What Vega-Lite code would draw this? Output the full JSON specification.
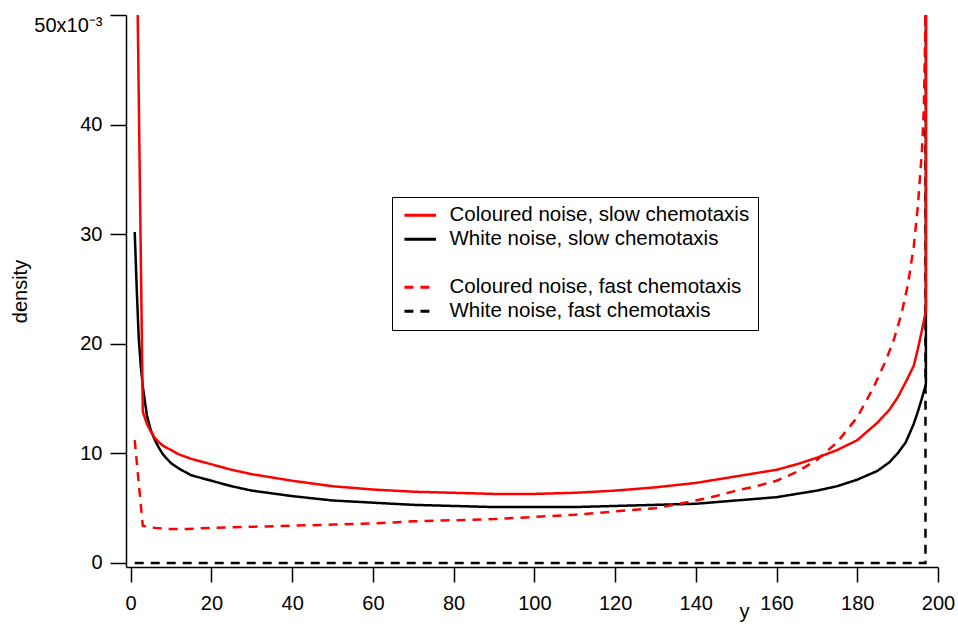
{
  "$schema": "https://vega.github.io/schema/vega-lite/v6.json",
  "width": 812,
  "height": 552,
  "autosize": "none",
  "padding": {"left": 126, "top": 15, "right": 20, "bottom": 59},
  "background": "white",
  "config": {"view": {"stroke": null}, "font": "Liberation Sans"},
  "data": {"values": [
    {"s":"White noise, fast chemotaxis","x":1,"d":0},{"s":"White noise, fast chemotaxis","x":10,"d":0},{"s":"White noise, fast chemotaxis","x":20,"d":0},{"s":"White noise, fast chemotaxis","x":30,"d":0},{"s":"White noise, fast chemotaxis","x":40,"d":0},{"s":"White noise, fast chemotaxis","x":50,"d":0},{"s":"White noise, fast chemotaxis","x":60,"d":0},{"s":"White noise, fast chemotaxis","x":70,"d":0},{"s":"White noise, fast chemotaxis","x":80,"d":0},{"s":"White noise, fast chemotaxis","x":90,"d":0},{"s":"White noise, fast chemotaxis","x":100,"d":0},{"s":"White noise, fast chemotaxis","x":110,"d":0},{"s":"White noise, fast chemotaxis","x":120,"d":0},{"s":"White noise, fast chemotaxis","x":130,"d":0},{"s":"White noise, fast chemotaxis","x":140,"d":0},{"s":"White noise, fast chemotaxis","x":150,"d":0},{"s":"White noise, fast chemotaxis","x":160,"d":0},{"s":"White noise, fast chemotaxis","x":170,"d":0},{"s":"White noise, fast chemotaxis","x":180,"d":0},{"s":"White noise, fast chemotaxis","x":190,"d":0},{"s":"White noise, fast chemotaxis","x":196.9,"d":0},{"s":"White noise, fast chemotaxis","x":197,"d":1.0},

    {"s":"White noise, slow chemotaxis","x":1,"d":0.0302},{"s":"White noise, slow chemotaxis","x":1.5,"d":0.0250},{"s":"White noise, slow chemotaxis","x":2,"d":0.0205},{"s":"White noise, slow chemotaxis","x":2.5,"d":0.0180},{"s":"White noise, slow chemotaxis","x":3,"d":0.0161},{"s":"White noise, slow chemotaxis","x":4,"d":0.0135},{"s":"White noise, slow chemotaxis","x":5,"d":0.0121},{"s":"White noise, slow chemotaxis","x":6,"d":0.0112},{"s":"White noise, slow chemotaxis","x":7,"d":0.0105},{"s":"White noise, slow chemotaxis","x":8,"d":0.0099},{"s":"White noise, slow chemotaxis","x":10,"d":0.0091},{"s":"White noise, slow chemotaxis","x":12,"d":0.0086},{"s":"White noise, slow chemotaxis","x":15,"d":0.0080},{"s":"White noise, slow chemotaxis","x":20,"d":0.0075},{"s":"White noise, slow chemotaxis","x":25,"d":0.0070},{"s":"White noise, slow chemotaxis","x":30,"d":0.0066},{"s":"White noise, slow chemotaxis","x":40,"d":0.0061},{"s":"White noise, slow chemotaxis","x":50,"d":0.0057},{"s":"White noise, slow chemotaxis","x":60,"d":0.0055},{"s":"White noise, slow chemotaxis","x":70,"d":0.0053},{"s":"White noise, slow chemotaxis","x":80,"d":0.0052},{"s":"White noise, slow chemotaxis","x":90,"d":0.0051},{"s":"White noise, slow chemotaxis","x":100,"d":0.0051},{"s":"White noise, slow chemotaxis","x":110,"d":0.0051},{"s":"White noise, slow chemotaxis","x":120,"d":0.0052},{"s":"White noise, slow chemotaxis","x":130,"d":0.0053},{"s":"White noise, slow chemotaxis","x":140,"d":0.0054},{"s":"White noise, slow chemotaxis","x":150,"d":0.0057},{"s":"White noise, slow chemotaxis","x":160,"d":0.0060},{"s":"White noise, slow chemotaxis","x":170,"d":0.0066},{"s":"White noise, slow chemotaxis","x":175,"d":0.0070},{"s":"White noise, slow chemotaxis","x":180,"d":0.0076},{"s":"White noise, slow chemotaxis","x":185,"d":0.0084},{"s":"White noise, slow chemotaxis","x":188,"d":0.0092},{"s":"White noise, slow chemotaxis","x":190,"d":0.0100},{"s":"White noise, slow chemotaxis","x":192,"d":0.0110},{"s":"White noise, slow chemotaxis","x":194,"d":0.0127},{"s":"White noise, slow chemotaxis","x":195,"d":0.0138},{"s":"White noise, slow chemotaxis","x":196,"d":0.0150},{"s":"White noise, slow chemotaxis","x":197,"d":0.0163},{"s":"White noise, slow chemotaxis","x":197.1,"d":0.3},

    {"s":"Coloured noise, fast chemotaxis","x":1,"d":0.0112},{"s":"Coloured noise, fast chemotaxis","x":3,"d":0.0034},{"s":"Coloured noise, fast chemotaxis","x":4,"d":0.0033},{"s":"Coloured noise, fast chemotaxis","x":6,"d":0.0032},{"s":"Coloured noise, fast chemotaxis","x":9,"d":0.0031},{"s":"Coloured noise, fast chemotaxis","x":14,"d":0.0031},{"s":"Coloured noise, fast chemotaxis","x":20,"d":0.0032},{"s":"Coloured noise, fast chemotaxis","x":30,"d":0.0033},{"s":"Coloured noise, fast chemotaxis","x":40,"d":0.0034},{"s":"Coloured noise, fast chemotaxis","x":50,"d":0.0035},{"s":"Coloured noise, fast chemotaxis","x":60,"d":0.0036},{"s":"Coloured noise, fast chemotaxis","x":70,"d":0.0038},{"s":"Coloured noise, fast chemotaxis","x":80,"d":0.0039},{"s":"Coloured noise, fast chemotaxis","x":90,"d":0.0040},{"s":"Coloured noise, fast chemotaxis","x":100,"d":0.0042},{"s":"Coloured noise, fast chemotaxis","x":110,"d":0.0044},{"s":"Coloured noise, fast chemotaxis","x":120,"d":0.0047},{"s":"Coloured noise, fast chemotaxis","x":130,"d":0.0050},{"s":"Coloured noise, fast chemotaxis","x":136,"d":0.0054},{"s":"Coloured noise, fast chemotaxis","x":140,"d":0.0057},{"s":"Coloured noise, fast chemotaxis","x":145,"d":0.0061},{"s":"Coloured noise, fast chemotaxis","x":150,"d":0.0066},{"s":"Coloured noise, fast chemotaxis","x":155,"d":0.0070},{"s":"Coloured noise, fast chemotaxis","x":160,"d":0.0075},{"s":"Coloured noise, fast chemotaxis","x":165,"d":0.0083},{"s":"Coloured noise, fast chemotaxis","x":170,"d":0.0094},{"s":"Coloured noise, fast chemotaxis","x":175,"d":0.0110},{"s":"Coloured noise, fast chemotaxis","x":180,"d":0.0133},{"s":"Coloured noise, fast chemotaxis","x":184,"d":0.0160},{"s":"Coloured noise, fast chemotaxis","x":187,"d":0.0184},{"s":"Coloured noise, fast chemotaxis","x":189,"d":0.0203},{"s":"Coloured noise, fast chemotaxis","x":191,"d":0.0228},{"s":"Coloured noise, fast chemotaxis","x":192.6,"d":0.0255},{"s":"Coloured noise, fast chemotaxis","x":194,"d":0.0289},{"s":"Coloured noise, fast chemotaxis","x":195,"d":0.0325},{"s":"Coloured noise, fast chemotaxis","x":196,"d":0.0375},{"s":"Coloured noise, fast chemotaxis","x":196.5,"d":0.0415},{"s":"Coloured noise, fast chemotaxis","x":196.9,"d":0.0498},{"s":"Coloured noise, fast chemotaxis","x":197,"d":0.1},

    {"s":"Coloured noise, slow chemotaxis","x":1,"d":0.0714},{"s":"Coloured noise, slow chemotaxis","x":3,"d":0.0138},{"s":"Coloured noise, slow chemotaxis","x":4,"d":0.0127},{"s":"Coloured noise, slow chemotaxis","x":5,"d":0.0120},{"s":"Coloured noise, slow chemotaxis","x":6,"d":0.0114},{"s":"Coloured noise, slow chemotaxis","x":7,"d":0.0110},{"s":"Coloured noise, slow chemotaxis","x":8,"d":0.0107},{"s":"Coloured noise, slow chemotaxis","x":10,"d":0.0103},{"s":"Coloured noise, slow chemotaxis","x":12,"d":0.0099},{"s":"Coloured noise, slow chemotaxis","x":15,"d":0.0095},{"s":"Coloured noise, slow chemotaxis","x":20,"d":0.0090},{"s":"Coloured noise, slow chemotaxis","x":25,"d":0.0085},{"s":"Coloured noise, slow chemotaxis","x":30,"d":0.0081},{"s":"Coloured noise, slow chemotaxis","x":40,"d":0.0075},{"s":"Coloured noise, slow chemotaxis","x":50,"d":0.0070},{"s":"Coloured noise, slow chemotaxis","x":60,"d":0.0067},{"s":"Coloured noise, slow chemotaxis","x":70,"d":0.0065},{"s":"Coloured noise, slow chemotaxis","x":80,"d":0.0064},{"s":"Coloured noise, slow chemotaxis","x":90,"d":0.0063},{"s":"Coloured noise, slow chemotaxis","x":100,"d":0.0063},{"s":"Coloured noise, slow chemotaxis","x":110,"d":0.0064},{"s":"Coloured noise, slow chemotaxis","x":120,"d":0.0066},{"s":"Coloured noise, slow chemotaxis","x":130,"d":0.0069},{"s":"Coloured noise, slow chemotaxis","x":140,"d":0.0073},{"s":"Coloured noise, slow chemotaxis","x":150,"d":0.0079},{"s":"Coloured noise, slow chemotaxis","x":160,"d":0.0085},{"s":"Coloured noise, slow chemotaxis","x":165,"d":0.0090},{"s":"Coloured noise, slow chemotaxis","x":170,"d":0.0096},{"s":"Coloured noise, slow chemotaxis","x":175,"d":0.0103},{"s":"Coloured noise, slow chemotaxis","x":180,"d":0.0112},{"s":"Coloured noise, slow chemotaxis","x":185,"d":0.0128},{"s":"Coloured noise, slow chemotaxis","x":188,"d":0.0140},{"s":"Coloured noise, slow chemotaxis","x":190,"d":0.0151},{"s":"Coloured noise, slow chemotaxis","x":192,"d":0.0165},{"s":"Coloured noise, slow chemotaxis","x":194,"d":0.0180},{"s":"Coloured noise, slow chemotaxis","x":195,"d":0.0195},{"s":"Coloured noise, slow chemotaxis","x":196,"d":0.0212},{"s":"Coloured noise, slow chemotaxis","x":197,"d":0.0230},{"s":"Coloured noise, slow chemotaxis","x":197.1,"d":0.3}
  ]},
  "mark": {"type": "line", "clip": true},
  "encoding": {
    "x": {
      "field": "x", "type": "quantitative",
      "scale": {"domain": [-1.16, 200], "nice": false, "zero": false},
      "axis": {
        "title": "y", "values": [0,20,40,60,80,100,120,140,160,180,200],
        "labelFlush": false, "grid": false,
        "domainColor": "black", "domainWidth": 1.5, "tickColor": "black", "tickWidth": 1.5, "tickSize": 15,
        "labelFontSize": 20, "labelFont": "Liberation Sans", "labelColor": "black", "labelPadding": 11,
        "titleX": 618, "titleY": 50, "titleBaseline": "alphabetic", "titleAlign": "center",
        "titleFontWeight": "normal", "titleFontSize": 20, "titleFont": "Liberation Sans", "titleColor": "black"
      }
    },
    "y": {
      "field": "d", "type": "quantitative",
      "scale": {"domain": [-0.00037, 0.05], "nice": false, "zero": false},
      "axis": {
        "title": "density", "values": [0, 0.01, 0.02, 0.03, 0.04, 0.05],
        "labelExpr": "datum.value > 0.045 ? '50x10⁻³' : format(datum.value * 1000, 'd')",
        "labelFlush": true, "grid": false,
        "domainColor": "black", "domainWidth": 1.5, "tickColor": "black", "tickWidth": 1.5, "tickSize": 16,
        "labelFontSize": 20, "labelFont": "Liberation Sans", "labelColor": "black", "labelPadding": 8,
        "titleX": -96, "titleY": 276, "titleBaseline": "bottom", "titleAlign": "center",
        "titleFontWeight": "normal", "titleFontSize": 20, "titleFont": "Liberation Sans", "titleColor": "black"
      }
    },
    "size": {
      "field": "s", "type": "nominal",
      "scale": {
        "domain": ["Coloured noise, slow chemotaxis", "White noise, slow chemotaxis", " ", "Coloured noise, fast chemotaxis", "White noise, fast chemotaxis"],
        "range": [2.5, 2.5, 2.5, 3.5, 3.5]
      },
      "legend": null
    },
    "color": {
      "field": "s", "type": "nominal",
      "scale": {
        "domain": ["Coloured noise, slow chemotaxis", "White noise, slow chemotaxis", " ", "Coloured noise, fast chemotaxis", "White noise, fast chemotaxis"],
        "range": ["#ff0000", "#000000", "transparent", "#ff0000", "#000000"]
      },
      "legend": {
        "orient": "none", "legendX": 266, "legendY": 182, "title": null,
        "strokeColor": "black", "fillColor": "white", "padding": 8,
        "symbolType": "M-20,0H20", "symbolSize": 400, "symbolStrokeWidth": 3, "symbolOffset": 10,
        "labelFontSize": 20.5, "labelFont": "Liberation Sans", "labelColor": "black", "labelOffset": 19, "labelLimit": 400,
        "rowPadding": 3
      }
    },
    "strokeDash": {
      "field": "s", "type": "nominal",
      "scale": {
        "domain": ["Coloured noise, slow chemotaxis", "White noise, slow chemotaxis", " ", "Coloured noise, fast chemotaxis", "White noise, fast chemotaxis"],
        "range": [[1, 0], [1, 0], [1, 0], [9, 7], [9, 7]]
      },
      "legend": {
        "orient": "none", "legendX": 266, "legendY": 182, "title": null,
        "strokeColor": "black", "fillColor": "white", "padding": 8,
        "symbolType": "M-20,0H20", "symbolSize": 400, "symbolStrokeWidth": 3, "symbolOffset": 10,
        "labelFontSize": 20.5, "labelFont": "Liberation Sans", "labelColor": "black", "labelOffset": 19, "labelLimit": 400,
        "rowPadding": 3
      }
    }
  }
}
